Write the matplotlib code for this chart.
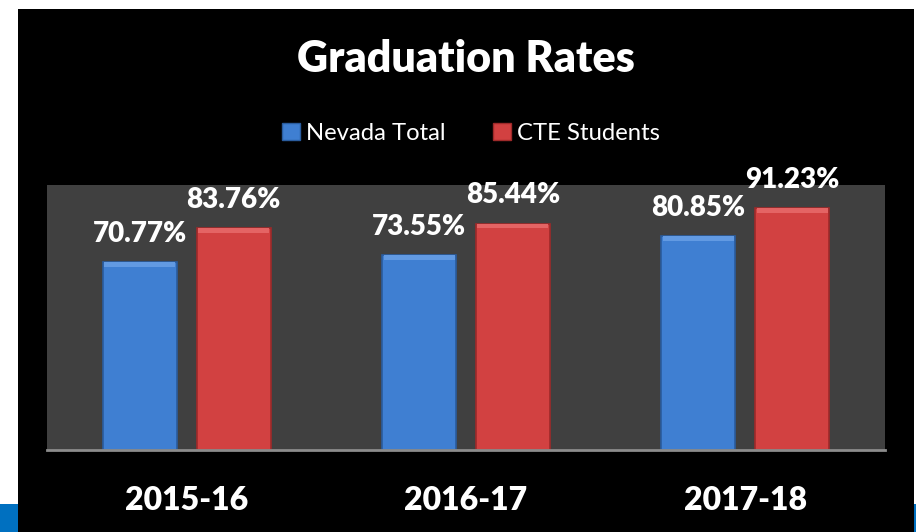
import numpy as np
import matplotlib.pyplot as plt
from matplotlib.patches import Rectangle, Patch

# dados do gráfico
anos = ["2015-16", "2016-17", "2017-18"]
nevada_total = [70.77, 73.55, 80.85]
cte_students = [83.76, 85.44, 91.23]
series = ["Nevada Total", "CTE Students"]

W, H = 916, 532
fig = plt.figure(figsize=(W / 100, H / 100), dpi=100)
fig.patch.set_facecolor("white")
fonte = ["Lato", "DejaVu Sans"]
peso = "heavy"

# fundo preto do slide e faixas azuis
fig.add_artist(Rectangle((18 / W, 0), 896 / W, 523 / H, transform=fig.transFigure,
                         facecolor="black", edgecolor="none", zorder=0))
fig.add_artist(Rectangle((0, 0), 18 / W, 28 / H, transform=fig.transFigure,
                         facecolor="#0070C0", edgecolor="none", zorder=0))
fig.add_artist(Rectangle((914 / W, 0), 2 / W, 28 / H, transform=fig.transFigure,
                         facecolor="#0070C0", edgecolor="none", zorder=0))

ax = fig.add_axes([47 / W, (H - 450) / H, 838 / W, 265 / H])
ax.set_facecolor("#404040")

x = np.arange(len(anos))
larg = 0.265
desloc = 0.168
cores = ["#3F7FD2", "#D24141"]
bordas = ["#2A5C9E", "#9E2A2A"]
claras = ["#629AE2", "#E46464"]

for i, (vals, nome) in enumerate(zip([nevada_total, cte_students], series)):
    pos = x + (-desloc if i == 0 else desloc)
    ax.bar(pos, vals, width=larg, color=cores[i], edgecolor=bordas[i], linewidth=1.2, zorder=2)
    # brilho no topo (efeito chanfrado)
    ax.bar(pos, [1.8] * len(vals), bottom=np.array(vals) - 1.8, width=larg * 0.96,
           color=claras[i], edgecolor="none", zorder=3)
    for px, v in zip(pos, vals):
        ax.annotate(f"{v:.2f}%", (px, v), xytext=(0, 14.5), textcoords="offset points",
                    ha="center", va="baseline", color="white", fontsize=20,
                    fontweight=peso, family=fonte, annotation_clip=False)

ax.set_xlim(-0.5, 2.5)
ax.set_ylim(0, 100)
ax.set_yticks([])
ax.set_xticks(x)
ax.set_xticklabels(anos, color="white", fontsize=23, fontweight=peso, family=fonte)
ax.tick_params(axis="x", length=0, pad=26)
for s in ["top", "left", "right"]:
    ax.spines[s].set_visible(False)
ax.spines["bottom"].set_color("#8C8C8C")
ax.spines["bottom"].set_linewidth(2)

fig.text(466 / W, 1 - 59 / H, "Graduation Rates", ha="center", va="center",
         color="white", fontsize=31, fontweight=peso, family=fonte)

handles = [Patch(facecolor=cores[i], edgecolor=bordas[i], label=series[i]) for i in range(2)]
leg = fig.legend(handles=handles, loc="center", bbox_to_anchor=(471 / W, 1 - 133 / H),
                 ncol=2, frameon=False, handlelength=0.75, handleheight=0.7,
                 handletextpad=0.25, columnspacing=2.0, prop={"family": fonte, "size": 17.2})
for t in leg.get_texts():
    t.set_color("white")

fig.savefig("out.png", dpi=100, facecolor=fig.get_facecolor())
